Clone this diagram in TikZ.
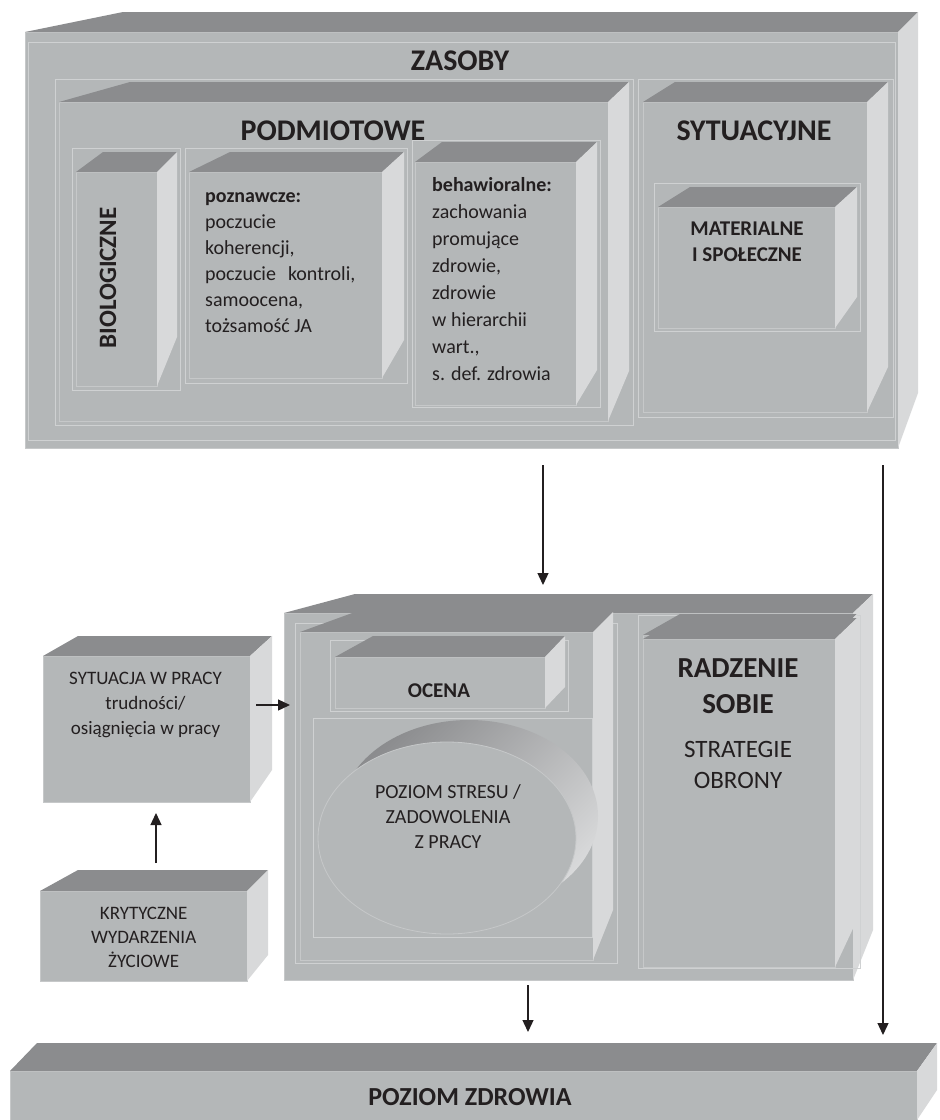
\documentclass[tikz,border=0pt]{standalone}
\usepackage{fontspec}
\setmainfont{Carlito}
\usepackage{xcolor}
\usepackage{tikz}
\usetikzlibrary{arrows.meta,positioning,shapes.geometric,fit,calc}
\definecolor{Top}{RGB}{139,140,142}
\definecolor{Front}{RGB}{180,183,184}
\definecolor{Side}{RGB}{216,217,218}
\definecolor{FrontEdge}{RGB}{198,200,201}
\definecolor{Frame}{RGB}{207,209,210}
\definecolor{Ink}{RGB}{35,31,32}
\tikzset{
  frontface/.style={fill=Front,draw=FrontEdge,line width=0.8pt,inner sep=0pt,outer sep=0pt},
  topface/.style={fill=Top},
  sideface/.style={fill=Side},
  frameline/.style={draw=Frame,line width=0.7pt},
  flow/.style={-{Triangle[length=12pt,width=11pt]},line width=1.3pt,draw=Ink},
  heading/.style={font=\bfseries\fontsize{30}{36}\selectfont,text=Ink,inner sep=0pt,anchor=base},
  bodytext/.style={font=\fontsize{20}{26}\selectfont,text=Ink,inner sep=0pt,align=left,anchor=north west},
  boxlabel/.style={font=\fontsize{19}{25}\selectfont,text=Ink,inner sep=0pt,align=center,anchor=north}
}
% front face as a node, top and side faces from its anchors
\newcommand{\drawcube}[7]{%
  \node[frontface,fit={#2 #3}] (#1) {};
  \fill[topface] (#1.north west) -- ++(#4,-#6) -- ($(#1.north east)+(#5,-#6)$) -- (#1.north east) -- cycle;
  \fill[sideface] (#1.north east) -- ++(#5,-#6) -- ($(#1.south east)+(#5,-#7)$) -- (#1.south east) -- cycle;
}
\begin{document}
\begin{tikzpicture}[x=1pt,y=-1pt]
\path[use as bounding box,fill=white] (0,0) rectangle (940,1120);
% ZASOBY
\drawcube{zasoby}{(25,32)}{(898,448)}{98}{20}{20}{55}
\draw[frameline] (28,42) rectangle (895,440);
\draw[frameline] (55,79) rectangle (633,425);
\draw[frameline] (638,79) rectangle (893,417);
\drawcube{podm}{(59,102)}{(608,421)}{71}{21}{20}{50}
\drawcube{syt}{(643,102)}{(867,412)}{32}{21}{20}{45}
\draw[frameline] (72,148) rectangle (180,390);
\draw[frameline] (185,148) rectangle (407,383);
\draw[frameline] (412,140) rectangle (600,407);
\draw[frameline] (654,183) rectangle (860,331);
\drawcube{bio}{(76,172)}{(157,386)}{27}{20}{20}{49}
\drawcube{pozn}{(189,172)}{(382,378)}{41}{22}{20}{38}
\drawcube{behaw}{(415,162)}{(576,405)}{27}{21}{20}{35}
\drawcube{mat}{(658,207)}{(835,328)}{32}{22}{20}{31}
\node[heading] (zasobyT) at (460,70) {ZASOBY};
\node[heading] (podmT) at (333,140) {PODMIOTOWE};
\node[heading] (sytT) at (754,140) {SYTUACYJNE};
\node[font=\bfseries\fontsize{25}{30}\selectfont,text=Ink,rotate=90] (bioT) at (108,278) {BIOLOGICZNE};
\node[bodytext] (poznT) at (205,183.8) {\strut\textbf{poznawcze:}\\poczucie\\koherencji,\\poczucie\hspace{12pt}kontroli,\\samoocena,\\tożsamość JA};
\node[bodytext,font=\fontsize{20}{27}\selectfont] (behawT) at (432,172) {\strut\textbf{behawioralne:}\\zachowania\\promujące\\zdrowie,\\zdrowie\\w hierarchii\\wart.,\\s. def. zdrowia};
\node[boxlabel,font=\bfseries\fontsize{21}{26}\selectfont] (matT) at (747,216.8) {\strut MATERIALNE\\I SPOŁECZNE};
% srodkowy blok
\drawcube{proc}{(284,613)}{(853,980)}{71}{20}{19}{50}
\draw[frameline] (295,623) rectangle (617,963);
\draw[frameline] (638,615) rectangle (860,968);
\drawcube{eval}{(300,632)}{(593,960)}{55}{20}{20}{50}
\draw[frameline] (330,640) rectangle (568,711);
\draw[frameline] (313,718) rectangle (592,937);
\drawcube{ocena}{(335,657)}{(545,708)}{38}{20}{21}{21}
\node[heading,font=\bfseries\fontsize{21}{26}\selectfont] (ocenaT) at (439,697) {OCENA};
\node[ellipse,minimum width=258pt,minimum height=192pt,top color=Top,bottom color=Side,shading angle=45] (stressBack) at (469,816) {};
\node[ellipse,minimum width=258pt,minimum height=192pt,fill=Front,draw=FrontEdge,line width=0.8pt] (stress) at (447,838) {};
\node[boxlabel,font=\fontsize{20}{25}\selectfont] (stressT) at (448,780.5) {\strut POZIOM STRESU /\\ZADOWOLENIA\\Z PRACY};
\drawcube{radzback}{(643,635)}{(835,963)}{37}{22}{21}{47}
\drawcube{radz}{(643,639)}{(835,967)}{37}{22}{21}{47}
\node[boxlabel,font=\bfseries\fontsize{29}{36}\selectfont] (radzT) at (738,651.8) {\strut RADZENIE\\SOBIE};
\node[boxlabel,font=\fontsize{25}{31}\selectfont] (stratT) at (738,735.3) {\strut STRATEGIE\\OBRONY};
% lewa kolumna
\drawcube{sit}{(43,656)}{(250,802)}{35}{22}{20}{32}
\node[boxlabel] (sitT) at (145.5,666.5) {\strut SYTUACJA W PRACY\\trudności/\\osiągnięcia w pracy};
\drawcube{kryt}{(40,891)}{(247,981)}{38}{21}{21}{26}
\node[boxlabel,font=\fontsize{19}{24}\selectfont] (krytT) at (143.7,902.2) {\strut KRYTYCZNE\\WYDARZENIA\\ŻYCIOWE};
% POZIOM ZDROWIA
\drawcube{zdrow}{(10,1071)}{(917,1120)}{27}{20}{28}{30}
\node[heading,font=\bfseries\fontsize{26}{31}\selectfont] (zdrowT) at (470,1105) {POZIOM ZDROWIA};
% strzalki
\coordinate (zx) at (543,0); \coordinate (rx) at (883,0); \coordinate (px) at (528,0);
\coordinate (sy) at (0,705); \coordinate (kx) at (156,0);
\draw[flow,shorten <=17pt,shorten >=28pt] (zasoby.south -| zx) -- (proc.north -| zx);
\draw[flow,shorten <=17pt,shorten >=36pt] (zasoby.south -| rx) -- (zdrow.north -| rx);
\draw[flow,shorten <=5pt,shorten >=39pt] (proc.south -| px) -- (zdrow.north -| px);
\draw[flow,shorten <=6pt,shorten >=-6pt] (sit.east |- sy) -- (proc.west |- sy);
\draw[flow,shorten <=28pt,shorten >=11pt] (kryt.north -| kx) -- (sit.south -| kx);
\end{tikzpicture}
\end{document}
